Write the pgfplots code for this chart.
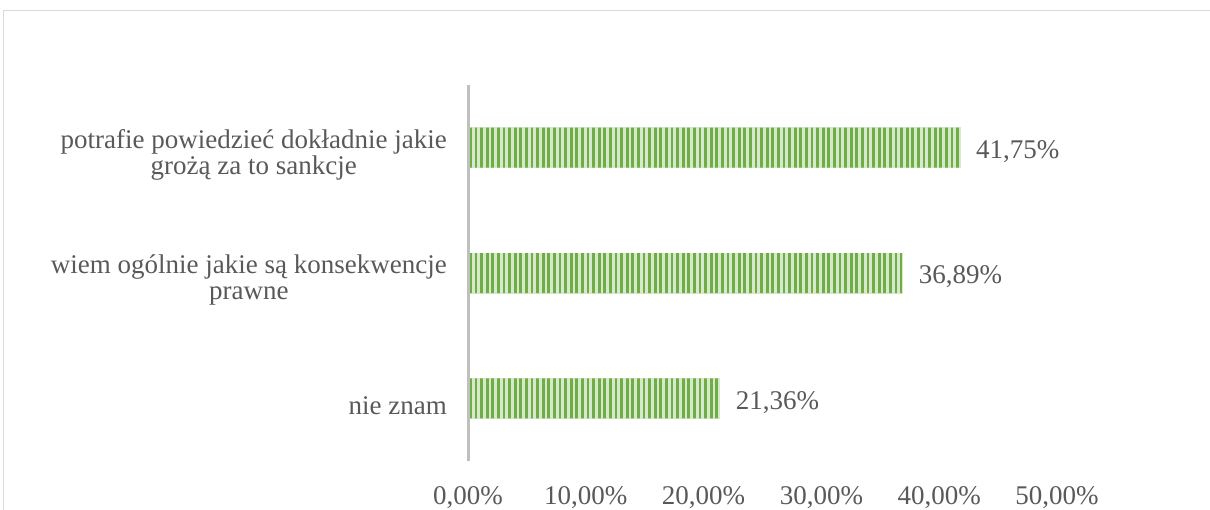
\documentclass[border=0pt]{standalone}
\usepackage{fontspec}
\setmainfont{Liberation Serif}
\usepackage{pgfplots}
\pgfplotsset{compat=1.18}
\usetikzlibrary{patterns.meta}
\definecolor{txt}{HTML}{595959}
\definecolor{bargreen}{HTML}{70AD47}
\definecolor{barlight}{HTML}{D6E9CA}
\definecolor{axgray}{HTML}{BFBFBF}
\definecolor{framegray}{HTML}{D9D9D9}
\begin{document}
\begin{tikzpicture}[x=1bp,y=1bp]
\useasboundingbox (0,0) rectangle (1210,-510);
\draw[framegray,line width=1.5bp] (3.5,-510) -- (3.5,-10.5) -- (1210,-10.5);
\begin{axis}[
  at={(468bp,-461bp)}, anchor=south west,
  scale only axis, width=589bp, height=376bp,
  xbar, bar width=40bp, bar shift=0pt,
  xmin=0, xmax=50, ymin=-0.5, ymax=2.5,
  xtick={0,10,20,30,40,50},
  ytick={0,1,2},
  yticklabels={nie znam, {wiem ogólnie jakie są konsekwencje\\prawne}, {potrafie powiedzieć dokładnie jakie\\grożą za to sankcje}},
  axis line style={draw=none},
  major tick length=0pt,
  /pgf/number format/assume math mode=true,
  xticklabel={\pgfmathprintnumber[fixed,fixed zerofill,precision=2,use comma]{\tick}\%},
  tick label style={font=\fontsize{27bp}{26bp}\selectfont, text=txt},
  xticklabel style={inner sep=0pt, anchor=north, yshift=-25bp},
  yticklabel style={align=center, inner sep=0pt, anchor=east, xshift=-21bp, yshift=-7bp},
  clip=false,
]
\addplot[fill=barlight, draw=barlight, line width=0.5bp]
  coordinates {(21.36,0) (36.89,1) (41.75,2)};
\addplot[draw=none, pattern={Lines[angle=90,distance=5.6bp,line width=2.8bp]}, pattern color=bargreen,
  nodes near coords={\pgfmathprintnumber[fixed,fixed zerofill,precision=2,use comma,assume math mode=true]{\pgfplotspointmeta}\%},
  nodes near coords style={font=\fontsize{27bp}{26bp}\selectfont, text=txt, anchor=west, inner sep=0pt, xshift=16bp, yshift=-4bp}]
  coordinates {(21.36,0) (36.89,1) (41.75,2)};
\draw[axgray, line width=3bp] (axis cs:0,-0.5) -- (axis cs:0,2.5);
\end{axis}
\end{tikzpicture}
\end{document}
